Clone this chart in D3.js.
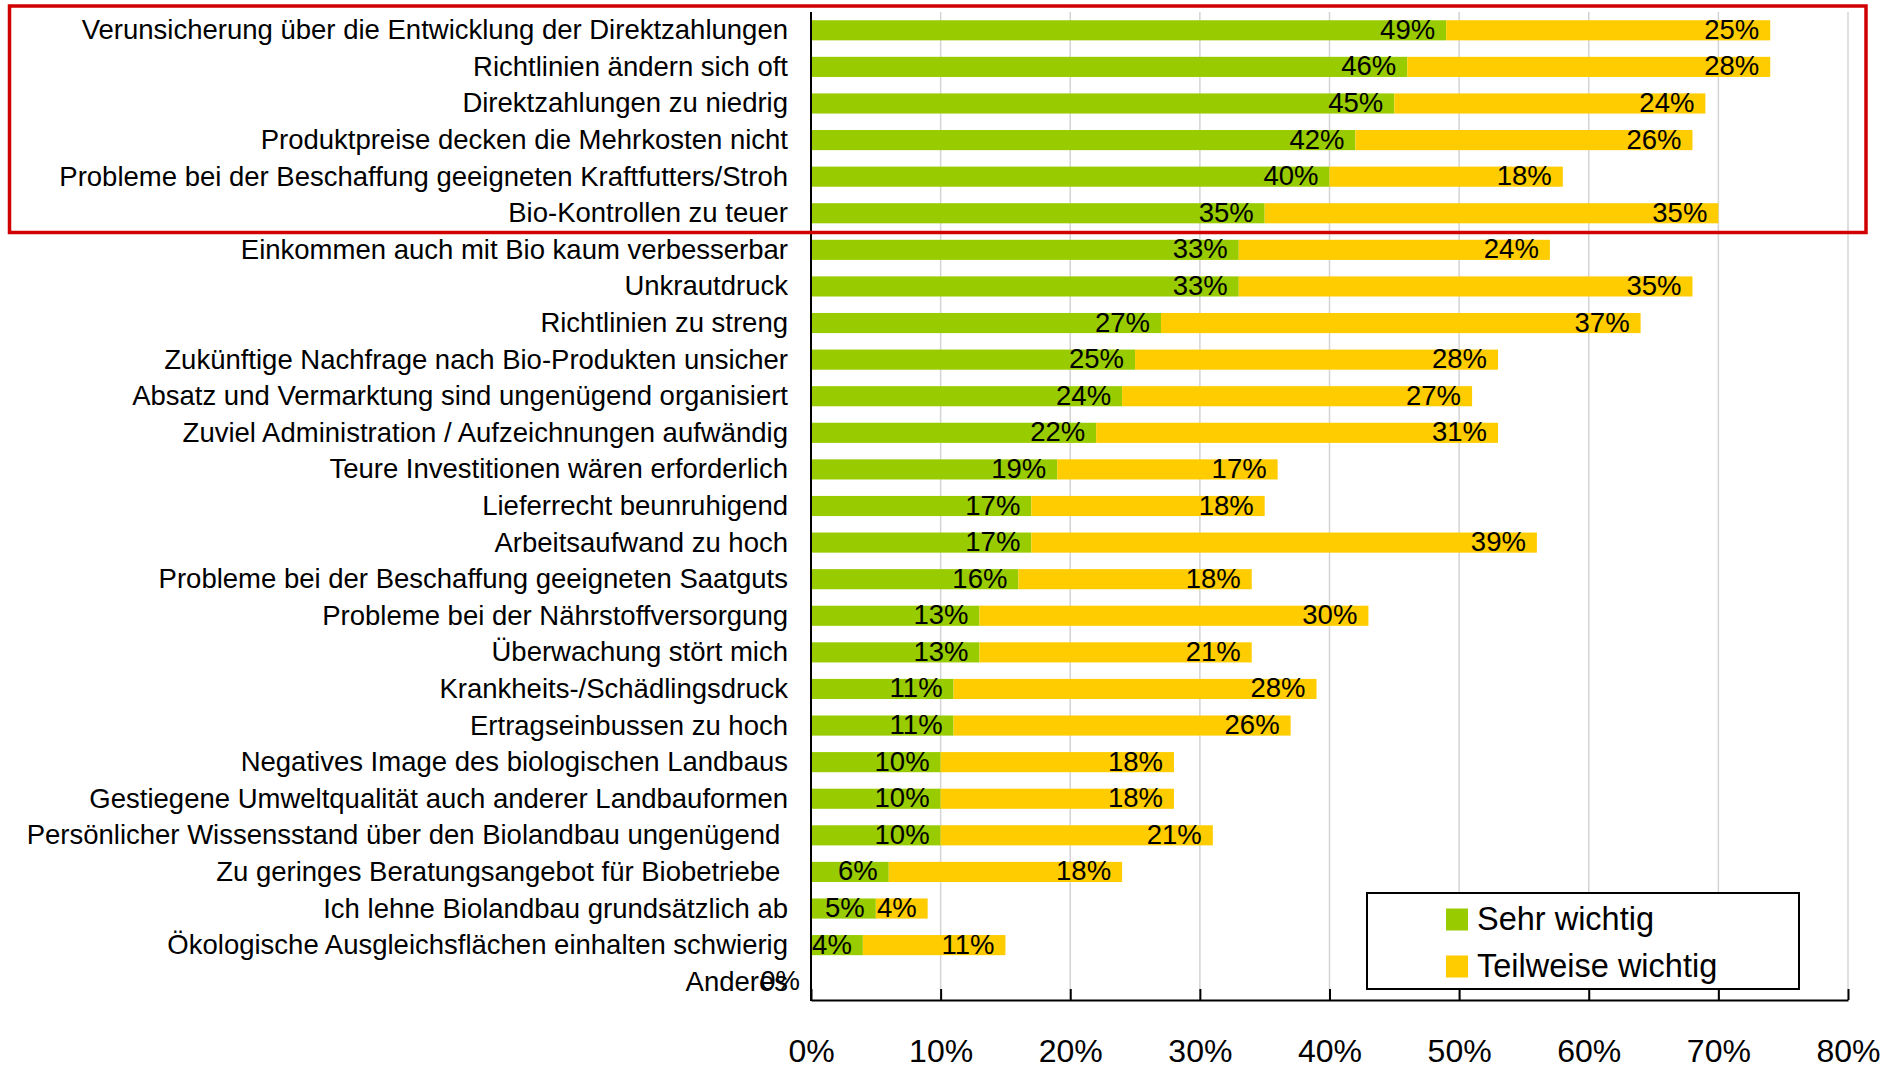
<!DOCTYPE html>
<html>
<head>
<meta charset="utf-8">
<script src="https://cdnjs.cloudflare.com/ajax/libs/d3/7.8.5/d3.min.js"></script>
<style>
  body { margin: 0; background: #fff; }
  text { font-family: "Liberation Sans", Arial, sans-serif; fill: #000; }
</style>
</head>
<body>
<svg id="chart" width="1899" height="1067"></svg>
<script>
let categories = [
  "Verunsicherung über die Entwicklung der Direktzahlungen",
  "Richtlinien ändern sich oft",
  "Direktzahlungen zu niedrig",
  "Produktpreise decken die Mehrkosten nicht",
  "Probleme bei der Beschaffung geeigneten Kraftfutters/Stroh",
  "Bio-Kontrollen zu teuer",
  "Einkommen auch mit Bio kaum verbesserbar",
  "Unkrautdruck",
  "Richtlinien zu streng",
  "Zukünftige Nachfrage nach Bio-Produkten unsicher",
  "Absatz und Vermarktung sind ungenügend organisiert",
  "Zuviel Administration / Aufzeichnungen aufwändig",
  "Teure Investitionen wären erforderlich",
  "Lieferrecht beunruhigend",
  "Arbeitsaufwand zu hoch",
  "Probleme bei der Beschaffung geeigneten Saatguts",
  "Probleme bei der Nährstoffversorgung",
  "Überwachung stört mich",
  "Krankheits-/Schädlingsdruck",
  "Ertragseinbussen zu hoch",
  "Negatives Image des biologischen Landbaus",
  "Gestiegene Umweltqualität auch anderer Landbauformen",
  "Persönlicher Wissensstand über den Biolandbau ungenügend\u00A0",
  "Zu geringes Beratungsangebot für Biobetriebe\u00A0",
  "Ich lehne Biolandbau grundsätzlich ab",
  "Ökologische Ausgleichsflächen einhalten schwierig",
  "Anderes"
]
let sehrWichtig = [49, 46, 45, 42, 40, 35, 33, 33, 27, 25, 24, 22, 19, 17, 17, 16, 13, 13, 11, 11, 10, 10, 10, 6, 5, 4, 0]
let teilweiseWichtig = [25, 28, 24, 26, 18, 35, 24, 35, 37, 28, 27, 31, 17, 18, 39, 18, 30, 21, 28, 26, 18, 18, 21, 18, 4, 11, 0]
let seriesNames = ["Sehr wichtig", "Teilweise wichtig"]
let seriesColors = ["#99cc00", "#ffcc00"]
let xTicks = [0, 10, 20, 30, 40, 50, 60, 70, 80]

let svg = d3.select("#chart")

let rows = categories.map((c, i) => ({ cat: c, a: sehrWichtig[i], b: teilweiseWichtig[i] }))

let xScale = d3.scaleLinear().domain([0, 80]).range([811, 1848])
let yScale = d3.scaleBand().domain(categories).range([12, 1000])
  .paddingInner(0.45).paddingOuter(0.225)

// gridlines
svg.append("g")
  .selectAll("line")
  .data(xTicks.slice(1))
  .join("line")
  .attr("x1", d => xScale(d)).attr("x2", d => xScale(d))
  .attr("y1", 12).attr("y2", 1000)
  .attr("stroke", "#d4d4d4").attr("stroke-width", 1.5)

// bars
let bars = svg.append("g")
bars.selectAll("rect.sehr")
  .data(rows)
  .join("rect")
  .attr("class", "sehr")
  .attr("x", xScale(0))
  .attr("y", d => yScale(d.cat))
  .attr("width", d => xScale(d.a) - xScale(0))
  .attr("height", yScale.bandwidth())
  .attr("fill", seriesColors[0])

bars.selectAll("rect.teil")
  .data(rows)
  .join("rect")
  .attr("class", "teil")
  .attr("x", d => xScale(d.a))
  .attr("y", d => yScale(d.cat))
  .attr("width", d => xScale(d.a + d.b) - xScale(d.a))
  .attr("height", yScale.bandwidth())
  .attr("fill", seriesColors[1])

// value labels (inside end)
let labels = svg.append("g").style("font-size", "27.5px").attr("text-anchor", "end")
labels.selectAll("text.sehr")
  .data(rows)
  .join("text")
  .attr("class", "sehr")
  .attr("x", d => xScale(d.a) - 11)
  .attr("y", d => yScale(d.cat) + yScale.bandwidth() / 2 + 8.5)
  .text(d => d.a + "%")

labels.selectAll("text.teil")
  .data(rows.filter(d => d.b > 0))
  .join("text")
  .attr("class", "teil")
  .attr("x", d => xScale(d.a + d.b) - 11)
  .attr("y", d => yScale(d.cat) + yScale.bandwidth() / 2 + 8.5)
  .text(d => d.b + "%")

// category labels
svg.append("g")
  .style("font-size", "27.5px")
  .attr("text-anchor", "end")
  .selectAll("text")
  .data(categories)
  .join("text")
  .attr("x", 788)
  .attr("y", d => yScale(d) + yScale.bandwidth() / 2 + 9)
  .text(d => d)

// axes
let xAxis = d3.axisBottom(xScale).tickValues(xTicks).tickSize(0).tickFormat(d => d + "%")
let xAxisGroup = svg.append("g")
  .attr("transform", "translate(0,1000)")
  .call(xAxis)
xAxisGroup.select(".domain").attr("stroke", "#000").attr("stroke-width", 2)
xAxisGroup.selectAll(".tick text")
  .attr("y", 62).attr("dy", null)
  .style("font-size", "32px")
  .style("font-family", "'Liberation Sans', Arial, sans-serif")
xAxisGroup.selectAll(".tick").append("line")
  .attr("y1", 0).attr("y2", -11)
  .attr("stroke", "#000").attr("stroke-width", 2)

svg.append("line")
  .attr("x1", xScale(0)).attr("x2", xScale(0))
  .attr("y1", 12).attr("y2", 1001)
  .attr("stroke", "#000").attr("stroke-width", 2)

// legend
let legend = svg.append("g")
legend.append("rect")
  .attr("x", 1367).attr("y", 893).attr("width", 432).attr("height", 96)
  .attr("fill", "#fff").attr("stroke", "#000").attr("stroke-width", 2)
let items = legend.selectAll("g.item")
  .data(seriesNames)
  .join("g")
  .attr("class", "item")
  .attr("transform", (d, i) => `translate(1446, ${908.5 + i * 47})`)
items.append("rect")
  .attr("width", 22).attr("height", 22)
  .attr("fill", (d, i) => seriesColors[i])
items.append("text")
  .attr("x", 31).attr("y", 21.5)
  .style("font-size", "32.5px")
  .text(d => d)

// red highlight box round the first six
svg.append("rect")
  .attr("x", 9.5).attr("y", 6)
  .attr("width", 1856.5).attr("height", 226.5)
  .attr("fill", "none").attr("stroke", "#d00000").attr("stroke-width", 3.5)
</script>
</body>
</html>
